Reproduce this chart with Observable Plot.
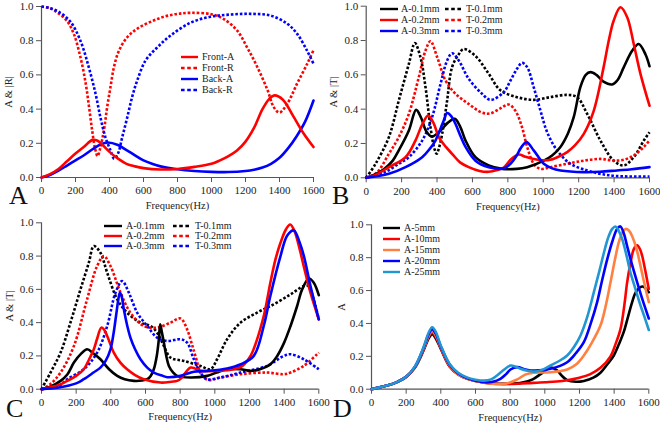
<!DOCTYPE html>
<html><head><meta charset="utf-8">
<script src="https://cdn.jsdelivr.net/npm/d3@7"></script>
<script src="https://cdn.jsdelivr.net/npm/@observablehq/plot@0.6"></script>
<style>
body{margin:0;background:#fff;}
#wrap{position:relative;width:660px;height:423px;overflow:hidden;font-family:"Liberation Serif",serif;color:#222;}
.panel{position:absolute;}
.panel svg{overflow:visible;}
.panel svg text{font-family:"Liberation Serif",serif !important;}
.letter{position:absolute;font-size:26px;line-height:26px;color:#111;}
.lg{position:absolute;font-size:10px;line-height:10px;white-space:nowrap;color:#222;}
</style></head><body><div id="wrap"></div>
<script>
// ---------- shared ticks ----------
const xTicks = [0,200,400,600,800,1000,1200,1400,1600];
const yTicks = [0,0.2,0.4,0.6,0.8,1.0];

// ---------- Panel A ----------
const aLabels = ["Front-A","Front-R","Back-A","Back-R"];
const aFrontA = [[0,0],[50,0.02],[100,0.05],[150,0.095],[200,0.14],[250,0.18],[300,0.22],[330,0.215],[360,0.19],[400,0.15],[450,0.11],[500,0.08],[550,0.065],[600,0.055],[700,0.047],[800,0.05],[900,0.062],[1000,0.08],[1050,0.10],[1100,0.125],[1150,0.158],[1200,0.21],[1250,0.29],[1300,0.40],[1340,0.46],[1370,0.48],[1420,0.455],[1480,0.36],[1540,0.26],[1600,0.178]];
const aFrontR = [[0,1],[50,0.99],[100,0.96],[150,0.915],[190,0.84],[230,0.70],[260,0.55],[280,0.41],[298,0.275],[315,0.17],[330,0.125],[345,0.17],[367,0.275],[386,0.41],[406,0.53],[426,0.645],[455,0.74],[504,0.82],[563,0.87],[641,0.91],[720,0.94],[800,0.957],[880,0.963],[1000,0.955],[1070,0.928],[1150,0.86],[1210,0.76],[1270,0.645],[1330,0.51],[1367,0.41],[1400,0.38],[1445,0.43],[1504,0.55],[1563,0.665],[1600,0.745]];
const aBackA = [[0,0],[50,0.015],[100,0.04],[150,0.07],[200,0.10],[250,0.13],[300,0.165],[350,0.195],[390,0.205],[450,0.19],[500,0.16],[550,0.13],[600,0.10],[650,0.08],[700,0.065],[800,0.048],[900,0.038],[1000,0.033],[1100,0.032],[1200,0.038],[1250,0.045],[1300,0.058],[1350,0.08],[1400,0.115],[1450,0.17],[1500,0.24],[1550,0.325],[1600,0.45]];
const aBackR = [[0,1],[50,0.99],[100,0.97],[171,0.91],[229,0.80],[278,0.645],[318,0.49],[347,0.35],[376,0.236],[406,0.158],[428,0.11],[450,0.14],[475,0.236],[504,0.35],[533,0.47],[563,0.567],[612,0.684],[680,0.76],[759,0.83],[876,0.905],[994,0.94],[1112,0.953],[1229,0.957],[1347,0.947],[1445,0.90],[1504,0.84],[1563,0.74],[1600,0.665]];

// ---------- Panel B ----------
const bLabels = ["A-0.1mm","A-0.2mm","A-0.3mm","T-0.1mm","T-0.2mm","T-0.3mm"];
const bA01 = [[0,0],[50,0.02],[100,0.05],[150,0.1],[184,0.16],[241,0.276],[282,0.396],[310,0.35],[340,0.27],[372,0.24],[420,0.276],[460,0.32],[500,0.344],[530,0.3],[561,0.217],[617,0.12],[692,0.072],[768,0.052],[850,0.052],[909,0.062],[1003,0.10],[1050,0.13],[1097,0.18],[1140,0.26],[1172,0.353],[1210,0.53],[1240,0.6],[1267,0.616],[1300,0.6],[1340,0.56],[1389,0.544],[1420,0.57],[1455,0.645],[1502,0.74],[1539,0.78],[1577,0.72],[1600,0.65]];
const bA02 = [[0,0],[50,0.015],[128,0.062],[222,0.12],[278,0.217],[316,0.31],[350,0.363],[380,0.32],[410,0.237],[450,0.18],[485,0.14],[530,0.09],[579,0.062],[640,0.04],[692,0.035],[740,0.045],[777,0.06],[820,0.11],[861,0.136],[900,0.122],[946,0.11],[1000,0.102],[1040,0.105],[1090,0.125],[1135,0.15],[1180,0.19],[1229,0.256],[1285,0.39],[1341,0.645],[1370,0.8],[1398,0.917],[1436,0.994],[1474,0.936],[1511,0.78],[1549,0.606],[1600,0.42]];
const bA03 = [[0,0],[128,0.023],[222,0.062],[316,0.12],[360,0.17],[391,0.217],[438,0.334],[457,0.377],[480,0.36],[504,0.315],[530,0.25],[561,0.18],[617,0.10],[692,0.062],[777,0.055],[815,0.082],[850,0.13],[871,0.17],[905,0.208],[946,0.16],[1003,0.082],[1050,0.055],[1097,0.043],[1229,0.033],[1320,0.035],[1417,0.043],[1500,0.05],[1600,0.062]];
const bT01 = [[0,0],[52,0.08],[128,0.237],[184,0.45],[241,0.664],[275,0.785],[307,0.70],[335,0.528],[363,0.295],[385,0.17],[398,0.14],[410,0.17],[429,0.256],[457,0.45],[485,0.645],[523,0.72],[551,0.75],[617,0.71],[692,0.606],[758,0.51],[852,0.47],[946,0.454],[1040,0.47],[1135,0.483],[1191,0.47],[1248,0.373],[1323,0.217],[1398,0.10],[1455,0.072],[1511,0.12],[1568,0.217],[1600,0.266]];
const bT02 = [[0,0],[60,0.03],[128,0.14],[184,0.237],[241,0.373],[297,0.586],[335,0.742],[363,0.796],[401,0.703],[448,0.567],[504,0.49],[579,0.43],[654,0.38],[700,0.375],[758,0.405],[805,0.427],[843,0.39],[880,0.295],[909,0.18],[946,0.082],[984,0.052],[1040,0.062],[1135,0.082],[1229,0.10],[1323,0.11],[1398,0.10],[1455,0.105],[1511,0.13],[1568,0.18],[1600,0.217]];
const bT03 = [[0,0],[100,0.03],[184,0.082],[241,0.12],[316,0.217],[372,0.353],[420,0.548],[457,0.683],[485,0.726],[523,0.683],[579,0.577],[654,0.49],[702,0.454],[777,0.5],[815,0.567],[852,0.635],[880,0.67],[909,0.645],[946,0.528],[984,0.392],[1022,0.266],[1078,0.16],[1153,0.082],[1248,0.043],[1323,0.023],[1417,0.01],[1600,0.008]];

// ---------- Panel C ----------
const cLabels = ["A-0.1mm","A-0.2mm","A-0.3mm","T-0.1mm","T-0.2mm","T-0.3mm"];
const cA01 = [[0,0],[50,0.015],[110,0.05],[150,0.09],[187,0.16],[230,0.215],[263,0.24],[300,0.215],[340,0.18],[390,0.12],[437,0.08],[480,0.06],[533,0.05],[580,0.052],[610,0.06],[630,0.08],[648,0.12],[665,0.2],[677,0.3],[685,0.39],[695,0.34],[706,0.28],[720,0.2],[735,0.14],[760,0.1],[783,0.08],[860,0.07],[956,0.08],[1010,0.1],[1071,0.12],[1148,0.12],[1206,0.11],[1260,0.12],[1321,0.15],[1360,0.2],[1400,0.28],[1437,0.38],[1475,0.5],[1504,0.6],[1543,0.665],[1571,0.64],[1600,0.565]];
const cA02 = [[0,0],[100,0.025],[148,0.05],[200,0.08],[244,0.12],[275,0.18],[302,0.24],[320,0.3],[345,0.37],[360,0.36],[379,0.32],[417,0.22],[455,0.16],[494,0.12],[540,0.085],[590,0.06],[687,0.04],[750,0.045],[783,0.05],[810,0.07],[831,0.10],[860,0.13],[885,0.125],[917,0.11],[1013,0.11],[1110,0.12],[1160,0.14],[1206,0.2],[1225,0.243],[1283,0.443],[1321,0.643],[1350,0.78],[1379,0.88],[1410,0.96],[1435,0.99],[1460,0.95],[1490,0.84],[1513,0.74],[1552,0.58],[1600,0.42]];
const cA03 = [[0,0],[100,0.01],[200,0.035],[244,0.06],[300,0.1],[340,0.13],[370,0.17],[398,0.24],[415,0.33],[430,0.44],[442,0.53],[452,0.58],[462,0.56],[475,0.48],[495,0.38],[513,0.31],[540,0.24],[571,0.18],[610,0.13],[648,0.10],[700,0.08],[725,0.072],[802,0.08],[879,0.105],[956,0.11],[1071,0.125],[1150,0.15],[1225,0.2],[1283,0.383],[1321,0.563],[1379,0.80],[1418,0.924],[1456,0.954],[1490,0.88],[1514,0.80],[1552,0.62],[1600,0.42]];
const cT01 = [[0,0],[52,0.10],[110,0.22],[167,0.40],[225,0.60],[273,0.76],[302,0.86],[340,0.82],[379,0.70],[437,0.54],[494,0.46],[571,0.40],[629,0.38],[667,0.34],[706,0.26],[744,0.19],[821,0.17],[917,0.14],[975,0.12],[1013,0.18],[1071,0.30],[1148,0.40],[1244,0.46],[1340,0.51],[1437,0.57],[1513,0.62],[1540,0.62],[1570,0.54],[1600,0.42]];
const cT02 = [[0,0],[50,0.03],[110,0.10],[187,0.26],[263,0.54],[321,0.74],[360,0.80],[398,0.74],[456,0.58],[513,0.46],[590,0.38],[667,0.37],[744,0.40],[802,0.425],[840,0.36],[865,0.28],[888,0.20],[927,0.08],[965,0.055],[1032,0.07],[1148,0.09],[1302,0.10],[1398,0.09],[1437,0.10],[1513,0.14],[1600,0.22]];
const cT03 = [[0,0],[100,0.02],[148,0.06],[244,0.12],[321,0.22],[379,0.38],[427,0.58],[465,0.65],[504,0.58],[552,0.46],[610,0.38],[667,0.31],[725,0.29],[802,0.30],[840,0.28],[879,0.18],[917,0.10],[956,0.06],[1032,0.07],[1148,0.10],[1302,0.14],[1398,0.20],[1437,0.21],[1513,0.18],[1600,0.12]];

// ---------- Panel D ----------
const dLabels = ["A-5mm","A-10mm","A-15mm","A-20mm","A-25mm"];
const d5 = [[0,0],[100,0.025],[150,0.045],[200,0.075],[250,0.13],[300,0.235],[330,0.31],[350,0.335],[370,0.31],[400,0.245],[450,0.14],[500,0.09],[550,0.065],[600,0.05],[700,0.035],[800,0.033],[870,0.04],[930,0.06],[980,0.095],[1033,0.132],[1070,0.115],[1100,0.08],[1129,0.055],[1180,0.045],[1225,0.05],[1280,0.07],[1321,0.1],[1360,0.15],[1398,0.205],[1430,0.28],[1456,0.35],[1480,0.44],[1504,0.53],[1525,0.59],[1550,0.62],[1565,0.625],[1585,0.61],[1600,0.59]];
const d10 = [[0,0],[100,0.025],[150,0.045],[200,0.075],[250,0.132],[300,0.24],[330,0.32],[350,0.345],[370,0.32],[400,0.25],[450,0.14],[500,0.09],[550,0.065],[600,0.05],[700,0.033],[800,0.032],[900,0.037],[1000,0.042],[1100,0.05],[1200,0.07],[1260,0.09],[1321,0.13],[1379,0.2],[1410,0.28],[1437,0.367],[1460,0.52],[1475,0.65],[1495,0.77],[1514,0.854],[1533,0.875],[1550,0.85],[1562,0.81],[1580,0.72],[1600,0.61]];
const d15 = [[0,0],[100,0.025],[150,0.045],[200,0.075],[250,0.133],[300,0.245],[330,0.325],[350,0.355],[370,0.33],[400,0.255],[450,0.145],[500,0.09],[550,0.065],[600,0.05],[700,0.033],[780,0.035],[841,0.06],[890,0.09],[937,0.1],[1033,0.103],[1129,0.12],[1180,0.15],[1225,0.205],[1270,0.28],[1321,0.387],[1350,0.5],[1379,0.65],[1405,0.79],[1427,0.894],[1446,0.95],[1466,0.975],[1485,0.965],[1504,0.93],[1530,0.85],[1552,0.75],[1575,0.64],[1600,0.53]];
const d20 = [[0,0],[100,0.025],[150,0.045],[200,0.075],[250,0.135],[300,0.25],[330,0.335],[350,0.365],[370,0.34],[400,0.26],[450,0.15],[500,0.095],[550,0.068],[600,0.052],[650,0.042],[700,0.045],[744,0.063],[775,0.09],[802,0.12],[841,0.134],[890,0.12],[937,0.113],[1033,0.124],[1129,0.164],[1180,0.22],[1225,0.286],[1265,0.4],[1302,0.53],[1330,0.66],[1360,0.79],[1390,0.9],[1417,0.975],[1436,0.99],[1455,0.95],[1475,0.87],[1500,0.77],[1533,0.65],[1565,0.54],[1600,0.43]];
const d25 = [[0,0],[100,0.025],[150,0.045],[200,0.075],[250,0.137],[300,0.255],[330,0.345],[350,0.377],[370,0.35],[400,0.265],[450,0.155],[500,0.1],[550,0.072],[600,0.058],[650,0.052],[690,0.06],[720,0.08],[760,0.115],[802,0.144],[830,0.138],[860,0.124],[900,0.112],[937,0.107],[980,0.115],[1033,0.144],[1080,0.17],[1129,0.205],[1170,0.26],[1206,0.327],[1245,0.44],[1283,0.59],[1315,0.72],[1341,0.83],[1365,0.92],[1389,0.975],[1408,0.99],[1428,0.96],[1446,0.914],[1470,0.82],[1494,0.71],[1520,0.62],[1552,0.51],[1575,0.44],[1600,0.36]];

// ---------- styles ----------
const RED = "#ff0000", BLUE = "#0000ff", BLACK = "#000000", ORANGE = "#ff8040", LBLUE = "#2196d3";
const AXIS = "#555";
const DOT = "2.6,1.9";
const LW = 2.6;
const SERIF = "Liberation Serif, serif";

const wrap = document.getElementById("wrap");

function makePanel(cfg) {
  const marks = [
    Plot.axisX({ticks: xTicks, tickSize: 5, tickPadding: 4, stroke: AXIS, fill: "#222", tickFormat: d3.format("d"),
      fontFamily: SERIF, fontSize: 11,
      label: "Frequency(Hz)", labelAnchor: "center", labelOffset: cfg.xlo, labelArrow: "none"}),
    Plot.axisY({ticks: yTicks, tickSize: 5, tickPadding: 3, stroke: AXIS, fill: "#222", tickFormat: d3.format(".1f"),
      fontFamily: SERIF, fontSize: 11,
      label: cfg.ylabel, labelAnchor: "center", labelOffset: cfg.ylo, labelArrow: "none"}),
    Plot.ruleX([0], {stroke: AXIS, strokeWidth: 1.2}),
    Plot.ruleY([0], {stroke: AXIS, strokeWidth: 1.2})
  ];
  for (const s of cfg.series) {
    const opts = {x: d => d[0], y: d => d[1], stroke: s.color, strokeWidth: LW, curve: "catmull-rom"};
    if (s.dashed) { opts.strokeDasharray = DOT; opts.strokeLinecap = "butt"; opts.strokeLinejoin = "miter"; }
    marks.push(Plot.line(s.data, opts));
  }
  const svg = Plot.plot({
    width: cfg.w, height: cfg.h,
    marginLeft: cfg.ml, marginRight: cfg.mr, marginTop: cfg.mt, marginBottom: cfg.mb,
    x: {domain: [0, 1600]}, y: {domain: [0, 1]},
    style: {fontFamily: SERIF, fontSize: "11px", background: "transparent", overflow: "visible"},
    marks
  });
  svg.setAttribute("font-family", SERIF);
  svg.querySelectorAll("text").forEach(t => { t.setAttribute("font-family", SERIF); t.style.fontFamily = SERIF; });
  svg.querySelectorAll('g[aria-label$="axis label"] text').forEach(t => t.setAttribute("font-size", "10.5"));
  const div = document.createElement("div");
  div.className = "panel";
  div.style.left = cfg.left + "px"; div.style.top = cfg.top + "px";
  div.appendChild(svg);
  wrap.appendChild(div);

  const L = document.createElement("div");
  L.className = "letter";
  L.textContent = cfg.letter;
  L.style.left = cfg.letterPos[0] + "px"; L.style.top = cfg.letterPos[1] + "px";
  wrap.appendChild(L);

  cfg.legend.forEach((it) => {
    const row = document.createElement("div");
    row.className = "lg";
    row.style.left = it.x + "px"; row.style.top = (it.y - 5) + "px";
    const s = it.series;
    const dash = s.dashed ? ' stroke-dasharray="3.6,2.6" stroke-linecap="butt"' : '';
    row.innerHTML = `<svg width="${it.len}" height="10" style="vertical-align:top;margin-right:${it.gap}px"><line x1="0" y1="5" x2="${it.len}" y2="5" stroke="${s.color}" stroke-width="2.4"${dash}/></svg>`;
    const sp = document.createElement("span");
    sp.textContent = it.label;
    sp.style.verticalAlign = "top";
    row.appendChild(sp);
    wrap.appendChild(row);
  });
}

// Panel A
const aSeries = [
  {data: aFrontR, color: RED, dashed: true},
  {data: aBackR, color: BLUE, dashed: true},
  {data: aBackA, color: BLUE},
  {data: aFrontA, color: RED}
];
const aLeg = [{color: RED}, {color: RED, dashed: true}, {color: BLUE}, {color: BLUE, dashed: true}];
makePanel({left: 0, top: 0, w: 330, h: 212, ml: 41, mr: 17, mt: 6, mb: 35, xlo: 31, ylo: 37, ylabel: "A & |R|",
  series: aSeries, letter: "A", letterPos: [9, 183],
  legend: aLabels.map((lab, i) => ({x: 181, y: 57 + i * 11.1, len: 17, gap: 4, label: lab, series: aLeg[i]}))});

// Panel B
const bSeries = [
  {data: bT01, color: BLACK, dashed: true},
  {data: bT02, color: RED, dashed: true},
  {data: bT03, color: BLUE, dashed: true},
  {data: bA01, color: BLACK},
  {data: bA02, color: RED},
  {data: bA03, color: BLUE}
];
const sixLeg = [{color: BLACK}, {color: RED}, {color: BLUE}, {color: BLACK, dashed: true}, {color: RED, dashed: true}, {color: BLUE, dashed: true}];
makePanel({left: 325, top: 0, w: 335, h: 212, ml: 40.7, mr: 11, mt: 5.7, mb: 34.7, xlo: 32, ylo: 37, ylabel: "A & |T|",
  series: bSeries, letter: "B", letterPos: [332, 183],
  legend: bLabels.map((lab, i) => ({x: i < 3 ? 380 : 445, y: 8.5 + (i % 3) * 11.3, len: 18, gap: 3, label: lab, series: sixLeg[i]}))});

// Panel C
const cSeries = [
  {data: cT01, color: BLACK, dashed: true},
  {data: cT02, color: RED, dashed: true},
  {data: cT03, color: BLUE, dashed: true},
  {data: cA01, color: BLACK},
  {data: cA02, color: RED},
  {data: cA03, color: BLUE}
];
makePanel({left: 0, top: 212, w: 330, h: 211, ml: 41, mr: 11.7, mt: 10.3, mb: 34.3, xlo: 31, ylo: 36, ylabel: "A & |T|",
  series: cSeries, letter: "C", letterPos: [6, 396],
  legend: cLabels.map((lab, i) => ({x: i < 3 ? 104 : 173, y: 225.5 + (i % 3) * 10, len: 18, gap: 4, label: lab, series: sixLeg[i]}))});

// Panel D
const dColors = [BLACK, RED, ORANGE, BLUE, LBLUE];
const dData = [d5, d10, d15, d20, d25];
const dSeries = dData.map((data, i) => ({data, color: dColors[i]}));
makePanel({left: 330, top: 212, w: 330, h: 211, ml: 41, mr: 11.7, mt: 12.3, mb: 34.3, xlo: 32, ylo: 34, ylabel: "A",
  series: dSeries, letter: "D", letterPos: [333, 396],
  legend: dLabels.map((lab, i) => ({x: 383, y: 227.7 + i * 11.1, len: 17, gap: 4, label: lab, series: {color: dColors[i]}}))});
</script>
</body></html>
